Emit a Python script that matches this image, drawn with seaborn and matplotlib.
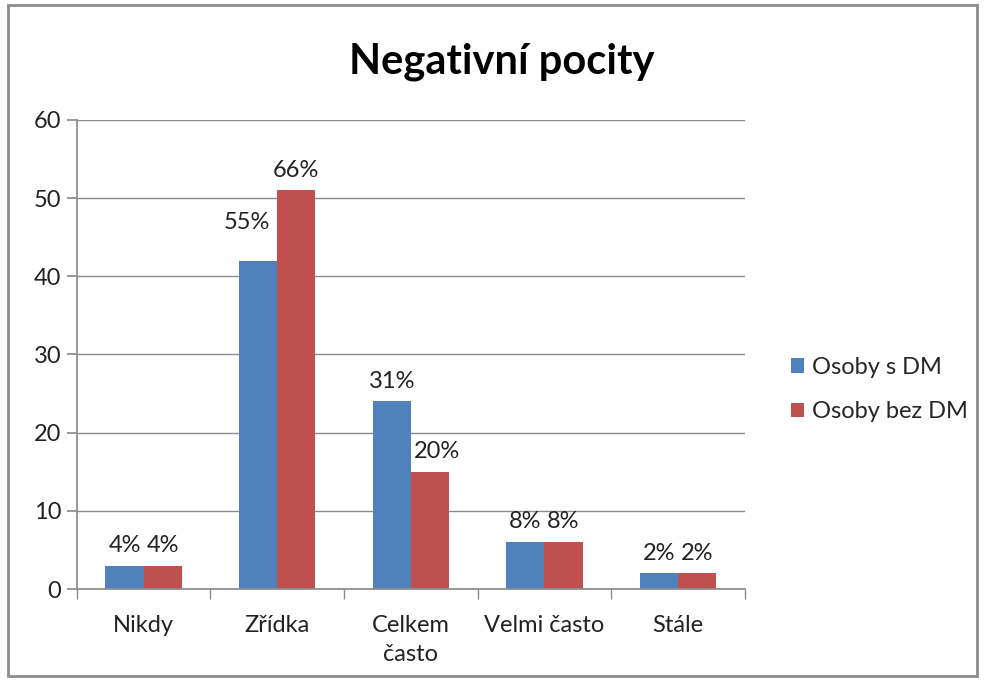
import pandas as pd
import numpy as np
import matplotlib.pyplot as plt
import seaborn as sns
from matplotlib.patches import Rectangle

# --- data ---
categories = ['Nikdy', 'Zřídka', 'Celkem\nčasto', 'Velmi často', 'Stále']
series = ['Osoby s DM', 'Osoby bez DM']
s_dm = [3, 42, 24, 6, 2]
bez_dm = [3, 51, 15, 6, 2]
pct_s_dm = ['4%', '55%', '31%', '8%', '2%']
pct_bez_dm = ['4%', '66%', '20%', '8%', '2%']
colors = ['#4F81BD', '#C0504D']

df = pd.DataFrame({
    'kategorie': categories * 2,
    'skupina': [series[0]] * len(categories) + [series[1]] * len(categories),
    'pocet': s_dm + bez_dm,
})

sns.set_theme(style='white')
plt.rcParams['font.family'] = ['Lato', 'DejaVu Sans']

fig = plt.figure(figsize=(9.84, 6.81), dpi=100)
fig.patches.append(Rectangle((0.008, 0.007), 0.985, 0.985, transform=fig.transFigure,
                             fill=False, edgecolor='#8c8c8c', linewidth=2))
ax = fig.add_axes([0.078, 0.135, 0.679, 0.689])

sns.barplot(data=df, x='kategorie', y='pocet', hue='skupina', palette=colors,
            width=0.57, saturation=1, linewidth=0, ax=ax, legend=True)

# --- labels above bars ---
fs = 17
all_anns = []
for cont, labels in zip(ax.containers, [pct_s_dm, pct_bez_dm]):
    anns = ax.bar_label(cont, labels=labels, padding=7, fontsize=fs, color='#222222')
    all_anns.append(anns)
# Excel nudged a couple of labels to avoid overlapping neighbours
all_anns[0][1].xyann = (-8, 20)
all_anns[1][2].xyann = (5, 7)

# --- axes styling ---
ax.set_ylim(0, 60)
ax.set_xlim(-0.5, 4.5)
ax.set_yticks(np.arange(0, 61, 10))
ax.yaxis.grid(True, color='#8c8c8c', linewidth=1)
ax.set_axisbelow(True)
ax.set_xlabel('')
ax.set_ylabel('')
for s in ['top', 'right']:
    ax.spines[s].set_visible(False)
for s in ['left', 'bottom']:
    ax.spines[s].set_color('#8c8c8c')
ax.tick_params(axis='y', labelsize=fs, length=7, color='#8c8c8c', left=True,
               labelcolor='#222222', pad=4)
ax.tick_params(axis='x', which='major', length=0, labelsize=fs, labelcolor='#222222', pad=19)
ax.set_xticks(np.arange(-0.5, 5, 1), minor=True)
ax.tick_params(axis='x', which='minor', length=7, color='#8c8c8c', bottom=True)

for lbl in ax.get_xticklabels():
    lbl.set_linespacing(1.45)

fig.text(0.51, 0.91, 'Negativní pocity', ha='center', va='center',
         fontsize=30, fontweight='bold', color='#000000')

ax.legend(loc='center left', bbox_to_anchor=(1.055, 0.425), frameon=False,
          fontsize=fs, handlelength=0.55, handleheight=0.55, handletextpad=0.35,
          labelspacing=1.0, borderaxespad=0)

fig.savefig('out.png', dpi=100)
